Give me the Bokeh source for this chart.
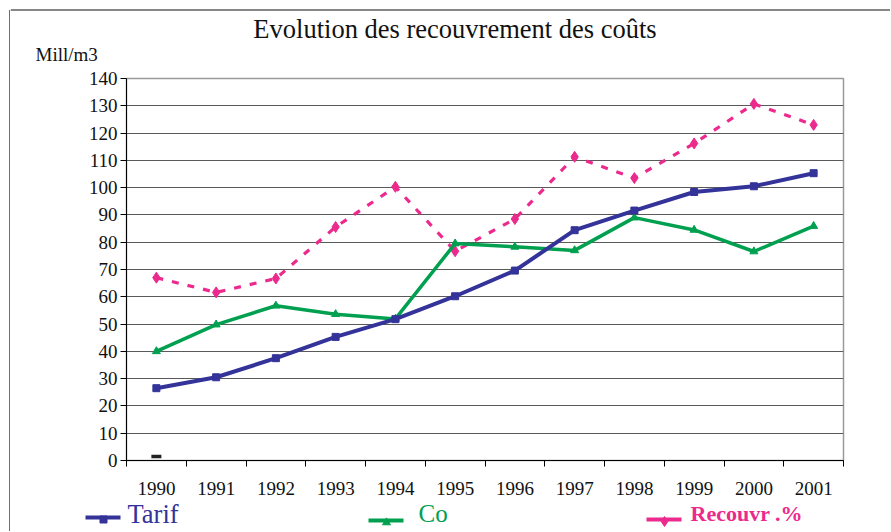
import numpy as np
from bokeh.plotting import figure
from bokeh.models import Range1d, FixedTicker, ColumnDataSource
from bokeh.layouts import column, row
from bokeh.embed import file_html
from bokeh.resources import INLINE
from bokeh.core.properties import value

# ---- data ----
years = ["1990", "1991", "1992", "1993", "1994", "1995",
         "1996", "1997", "1998", "1999", "2000", "2001"]
tarif = [26.5, 30.5, 37.5, 45.3, 51.8, 60.2, 69.6, 84.4, 91.6, 98.4, 100.5, 105.3]
co = [40.0, 49.8, 56.7, 53.6, 51.9, 79.5, 78.3, 77.0, 89.0, 84.5, 76.6, 85.9]
recouvr = [67.0, 61.6, 66.7, 85.6, 100.3, 76.7, 88.5, 111.3, 103.5, 116.2, 130.7, 123.0]
extra_1990 = [1.5]
y_ticks = list(range(0, 141, 10))

title_text = "Evolution des recouvrement des coûts"
unit_text = "Mill/m3"
names = ["Tarif", "Co", "Recouvr .%"]

BLUE = "#333399"
GREEN = "#00A050"
PINK = "#EC2A8E"
FONT = "Liberation Serif"

TOTAL_H = 531
STRIP_W = 10
COL_W = 880
HEAD_H = 64
MAIN_H = 436
LEG_H = TOTAL_H - HEAD_H - MAIN_H


def blank(w, h):
    f = figure(width=w, height=h, output_backend="svg", toolbar_location=None,
               x_range=Range1d(0, w), y_range=Range1d(h, 0), min_border=0,
               border_fill_color="white", background_fill_color="white",
               frame_align=False)
    f.axis.visible = False
    f.grid.visible = False
    f.outline_line_color = None
    return f


# left strip carrying the outer frame line
strip = blank(STRIP_W, TOTAL_H)
strip.line([9.5, 9.5], [9.5, TOTAL_H], color="#111", line_width=1.2)
strip.line([9.5, STRIP_W], [9.5, 9.5], color="#111", line_width=1.2)

# header with title and unit
head = blank(COL_W, HEAD_H)
head.line([0, COL_W], [9.5, 9.5], color="#111", line_width=1.2)
head.text([444.5], [28], text=[title_text], text_align="center",
          text_baseline="middle", text_font=value(FONT),
          text_font_size="26.5px", text_color="#111")
head.text([25], [54], text=[unit_text], text_align="left",
          text_baseline="middle", text_font=value(FONT),
          text_font_size="19px", text_color="#111")

# main chart
x = np.arange(len(years)) + 0.5
src = ColumnDataSource(dict(x=x, tarif=tarif, co=co, recouvr=recouvr))

p = figure(width=COL_W, height=MAIN_H, output_backend="svg", toolbar_location=None,
           x_range=Range1d(0, len(years)), y_range=Range1d(0, 140),
           min_border_left=116, min_border_right=47, min_border_top=14,
           min_border_bottom=40, background_fill_color="white",
           border_fill_color="white", frame_align=False)
p.outline_line_color = "#9a9a9a"
p.outline_line_width = 1.5

p.xgrid.visible = False
p.ygrid.ticker = FixedTicker(ticks=y_ticks)
p.ygrid.grid_line_color = "#5a5a5a"
p.ygrid.grid_line_width = 1

p.yaxis.ticker = FixedTicker(ticks=y_ticks)
p.yaxis.major_tick_out = 6
p.yaxis.major_tick_in = 0
p.yaxis.minor_tick_out = 0
p.yaxis.minor_tick_in = 0
p.yaxis.major_label_standoff = 3
p.yaxis.axis_line_color = "#000"
p.yaxis.major_tick_line_color = "#000"
p.yaxis.major_label_text_font = FONT
p.yaxis.major_label_text_font_size = "19px"
p.yaxis.major_label_text_color = "#111"

p.xaxis.ticker = FixedTicker(ticks=list(x), minor_ticks=list(range(len(years) + 1)))
p.xaxis.major_label_overrides = {float(xi): yr for xi, yr in zip(x, years)}
p.xaxis.major_tick_out = 0
p.xaxis.major_tick_in = 0
p.xaxis.minor_tick_out = 6
p.xaxis.minor_tick_in = 0
p.xaxis.minor_tick_line_color = "#000"
p.xaxis.axis_line_color = "#000"
p.xaxis.major_label_standoff = 15
p.xaxis.major_label_text_font = FONT
p.xaxis.major_label_text_font_size = "19px"
p.xaxis.major_label_text_color = "#111"

p.line("x", "recouvr", source=src, color=PINK, line_width=3.2, line_dash="7 9")
p.scatter("x", "recouvr", source=src, marker="diamond", size=11, color=PINK)
p.line("x", "co", source=src, color=GREEN, line_width=3.5)
p.scatter("x", "co", source=src, marker="triangle", size=8, color=GREEN)
p.line("x", "tarif", source=src, color=BLUE, line_width=4)
p.scatter("x", "tarif", source=src, marker="square", size=7, color=BLUE)
p.scatter(x[:1], extra_1990, marker="dash", size=10, line_width=3.5, color="#222")

# legend strip
lg = blank(COL_W, LEG_H)
items = [
    dict(x0=75, y=17, col=BLUE, marker="square", msize=7, tx=117,
         ty=13.5, fs="26.5px", fst="normal"),
    dict(x0=358, y=20, col=GREEN, marker="triangle", msize=8, tx=408,
         ty=13, fs="25px", fst="normal"),
    dict(x0=636, y=19, col=PINK, marker="diamond", msize=10, tx=680,
         ty=12.5, fs="22px", fst="bold"),
]
for name, it in zip(names, items):
    lg.line([it["x0"], it["x0"] + 35], [it["y"], it["y"]], color=it["col"],
            line_width=4)
    lg.scatter([it["x0"] + 18], [it["y"] + 2], marker=it["marker"],
               size=it["msize"], color=it["col"])
    lg.text([it["tx"]], [it["ty"]], text=[name], text_color=it["col"],
            text_font=value(FONT), text_font_size=it["fs"],
            text_font_style=it["fst"], text_baseline="middle")

layout = row(strip, column(head, p, lg, spacing=0), spacing=0)
open("out.html", "w").write(file_html(layout, INLINE))
